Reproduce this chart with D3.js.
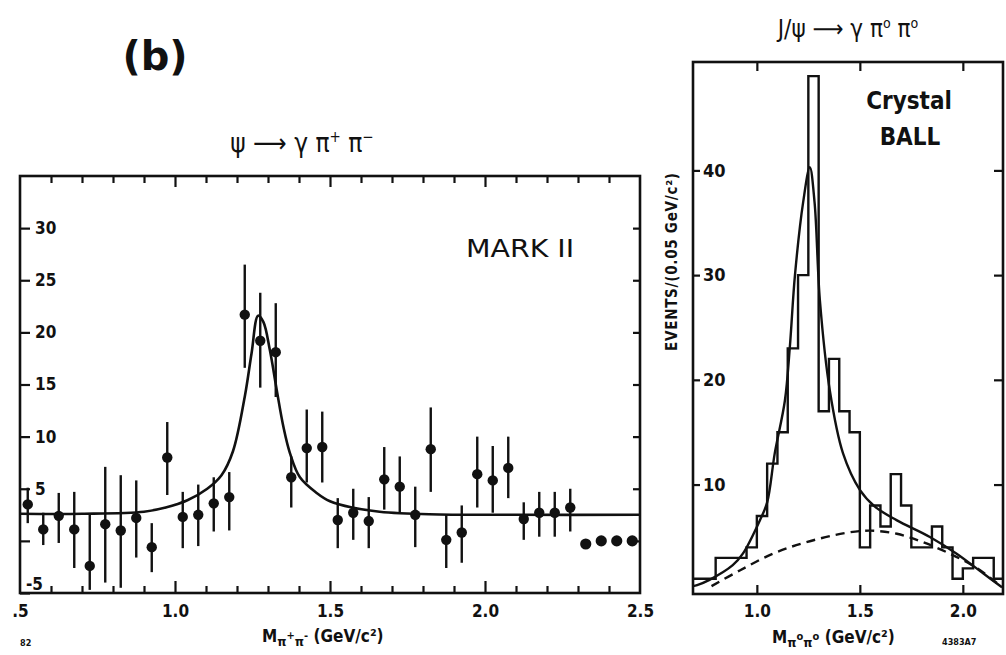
<!DOCTYPE html>
<html>
<head>
<meta charset="utf-8">
<script src="https://cdn.jsdelivr.net/npm/d3@7"></script>
<style>
  body { margin: 0; background: #fff; }
  svg text { font-family: "DejaVu Sans Condensed", "DejaVu Sans", sans-serif; font-weight: bold; fill: #111; }
</style>
</head>
<body>
<div id="chart"></div>
<script>
//*************************0. Data

// Mark II, psi -> gamma pi+ pi-  (bin centres, events, error bar ends)
const markMass    = [0.525, 0.575, 0.625, 0.675, 0.725, 0.775, 0.825, 0.875, 0.925, 0.975,
                     1.025, 1.075, 1.125, 1.175, 1.225, 1.275, 1.325, 1.375, 1.425, 1.475,
                     1.525, 1.575, 1.625, 1.675, 1.725, 1.775, 1.825, 1.875, 1.925, 1.975,
                     2.025, 2.075, 2.125, 2.175, 2.225, 2.275];
const markEvents  = [3.5, 1.1, 2.4, 1.1, -2.4, 1.6, 1.0, 2.2, -0.6, 8.0,
                     2.3, 2.5, 3.6, 4.2, 21.7, 19.2, 18.1, 6.1, 8.9, 9.0,
                     2.0, 2.7, 1.9, 5.9, 5.2, 2.5, 8.8, 0.1, 0.8, 6.4,
                     5.8, 7.0, 2.1, 2.7, 2.7, 3.2];
const markErrLow  = [1.7, -0.4, -0.2, -2.6, -4.7, -4.0, -4.5, -1.6, -3.0, 4.4,
                     -0.7, -0.5, 0.9, 1.0, 16.6, 14.7, 13.8, 3.2, 5.6, 5.6,
                     -0.7, 0.1, -0.7, 3.0, 2.7, -0.6, 4.7, -2.6, -2.1, 3.2,
                     2.7, 4.1, 0.1, 0.4, 0.4, 0.9];
const markErrHigh = [5.1, 2.7, 4.6, 4.7, 2.5, 7.1, 6.3, 5.8, 1.7, 11.4,
                     4.7, 5.4, 6.1, 6.6, 26.5, 23.8, 22.8, 8.1, 12.6, 12.4,
                     4.1, 5.0, 4.2, 9.0, 8.1, 5.2, 12.8, 2.5, 3.4, 10.0,
                     9.1, 10.0, 3.7, 4.7, 4.7, 5.0];
// last four bins drawn as plain dots
const markDotMass   = [2.325, 2.375, 2.425, 2.475];
const markDotEvents = [-0.3, 0.0, 0.0, 0.0];
// fitted curve
const markFitMass   = [0.5, 0.7, 0.9, 0.97, 1.04, 1.104, 1.15, 1.187, 1.226, 1.247, 1.268, 1.285,
                       1.306, 1.328, 1.35, 1.371, 1.403, 1.457, 1.5, 1.571, 1.66, 1.82, 2.1, 2.5];
const markFitEvents = [2.6, 2.6, 2.8, 3.2, 3.9, 5.0, 6.3, 8.6, 14.0, 18.0, 21.6, 21.0,
                       18.3, 14.5, 10.9, 8.4, 6.1, 4.6, 3.8, 3.2, 2.8, 2.55, 2.5, 2.5];
const markYTicks  = [30, 25, 20, 15, 10, 5, 0, -5];
const markXTicks  = [0.5, 1.0, 1.5, 2.0, 2.5];
const markXLabels = [".5", "1.0", "1.5", "2.0", "2.5"];

// Crystal Ball, J/psi -> gamma pi0 pi0 (histogram lower edges, events per 0.05 GeV)
const cbBinStart = [0.70, 0.75, 0.80, 0.85, 0.90, 0.95, 1.00, 1.05, 1.10, 1.15,
                    1.20, 1.25, 1.30, 1.35, 1.40, 1.45, 1.50, 1.55, 1.60, 1.65,
                    1.70, 1.75, 1.80, 1.85, 1.90, 1.95, 2.00, 2.05, 2.10, 2.15];
const cbEvents   = [1, 1, 3, 3, 3, 4, 7, 12, 15, 23,
                    30, 49, 17, 22, 17, 15, 4, 8, 6, 11,
                    8, 4, 4, 6, 4, 1, 2, 3, 3, 1];
const cbFitMass   = [0.69, 0.71, 0.77, 0.883, 0.932, 1.015, 1.05, 1.087, 1.136, 1.16, 1.185,
                     1.225, 1.257, 1.28, 1.306, 1.354, 1.418, 1.5, 1.573, 1.678, 1.84, 1.97, 2.1, 2.19];
const cbFitEvents = [0.3, 0.4, 0.9, 2.3, 3.4, 6.6, 8.3, 13, 18, 23.1, 30,
                     37, 40.3, 37, 27.6, 19, 13, 9.5, 7.9, 6.6, 5.0, 3.4, 1.5, 0.2];
const cbBgMass   = [0.78, 0.917, 1.078, 1.24, 1.437, 1.55, 1.68, 1.806, 1.937, 2.07, 2.19];
const cbBgEvents = [0.3, 1.8, 3.4, 4.5, 5.4, 5.6, 5.3, 4.5, 3.4, 2.0, 0.2];
const cbYTicks = [10, 20, 30, 40];
const cbXTicks = [1.0, 1.5, 2.0];

//*************************1. Set up Measurement

const dimensions = { width: 1006, height: 655 };
const markBox = { left: 20, right: 640, top: 176, bottom: 593 };
const cbBox   = { left: 693, right: 1003, top: 62, bottom: 594 };
const ink = "#111";

//*************************2. Draw Canvas

const wrapper = d3.select("#chart")
    .append("svg")
    .attr("width", dimensions.width)
    .attr("height", dimensions.height)
    .style("background", "#fff");

//*************************3. Scales

const markX = d3.scaleLinear().domain([0.5, 2.5]).range([markBox.left, markBox.right]);
const markY = d3.scaleLinear().domain([-5, 35]).range([markBox.bottom, markBox.top]);
const cbX = d3.scaleLinear().domain([0.69, 2.195]).range([cbBox.left, cbBox.right]);
const cbY = d3.scaleLinear().domain([-0.45, 50.35]).range([cbBox.bottom, cbBox.top]);

const styleAxis = g => {
    g.select(".domain").remove();
    g.selectAll(".tick line").attr("stroke", ink).attr("stroke-width", 2.2);
    g.selectAll("text").style("font-size", "17px");
};

//*************************4. Left panel (Mark II)

const mark = wrapper.append("g");

const markMinor = d3.range(0.6, 2.45, 0.1).filter(v => Math.abs(v * 2 - Math.round(v * 2)) > 0.01);
const markMajor = [1.0, 1.5, 2.0];

// bottom ticks + labels
mark.append("g").attr("transform", `translate(0,${markBox.bottom})`)
    .call(d3.axisBottom(markX).tickValues(markMinor).tickSize(-7).tickFormat(""))
    .call(styleAxis);
mark.append("g").attr("transform", `translate(0,${markBox.bottom})`)
    .call(d3.axisBottom(markX).tickValues(markMajor).tickSize(-12).tickFormat(""))
    .call(styleAxis);
mark.append("g").attr("transform", `translate(0,${markBox.bottom})`)
    .call(d3.axisBottom(markX).tickValues(markXTicks).tickSize(0).tickPadding(12)
        .tickFormat((d, i) => markXLabels[i]))
    .call(styleAxis);

// top ticks
mark.append("g").attr("transform", `translate(0,${markBox.top})`)
    .call(d3.axisTop(markX).tickValues(markMinor).tickSize(-7).tickFormat(""))
    .call(styleAxis);
mark.append("g").attr("transform", `translate(0,${markBox.top})`)
    .call(d3.axisTop(markX).tickValues(markMajor).tickSize(-11).tickFormat(""))
    .call(styleAxis);

// left ticks, labels sit inside the frame
const markLeft = mark.append("g").attr("transform", `translate(${markBox.left},0)`)
    .call(d3.axisLeft(markY).tickValues(markYTicks).tickSize(-10)
        .tickFormat(d => d === 0 ? "" : d))
    .call(styleAxis);
markLeft.selectAll("text")
    .attr("x", d => d === -5 ? 6 : 15)
    .attr("y", d => d === -5 ? -9 : 0)
    .attr("text-anchor", "start");

// right ticks
mark.append("g").attr("transform", `translate(${markBox.right},0)`)
    .call(d3.axisRight(markY).tickValues(markYTicks.filter(v => v >= 0)).tickSize(-7).tickFormat(""))
    .call(styleAxis);

mark.append("rect")
    .attr("x", markBox.left).attr("y", markBox.top)
    .attr("width", markBox.right - markBox.left).attr("height", markBox.bottom - markBox.top)
    .attr("fill", "none").attr("stroke", ink).attr("stroke-width", 2.6);

// fit line
const markLine = d3.line()
    .x(d => markX(d[0]))
    .y(d => markY(d[1]))
    .curve(d3.curveCatmullRom.alpha(0.5));

mark.append("path")
    .datum(markFitMass.map((m, i) => [m, markFitEvents[i]]))
    .attr("d", markLine)
    .attr("fill", "none").attr("stroke", ink).attr("stroke-width", 2.6);

// error bars and points
const markPoints = markMass.map((m, i) => ({
    m, v: markEvents[i], lo: markErrLow[i], hi: markErrHigh[i]
}));

mark.selectAll(".err")
    .data(markPoints)
    .join("line")
    .attr("class", "err")
    .attr("x1", d => markX(d.m)).attr("x2", d => markX(d.m))
    .attr("y1", d => markY(d.lo)).attr("y2", d => markY(d.hi))
    .attr("stroke", ink).attr("stroke-width", 2.4);

mark.selectAll(".pt")
    .data(markPoints)
    .join("circle")
    .attr("class", "pt")
    .attr("cx", d => markX(d.m)).attr("cy", d => markY(d.v))
    .attr("r", 5.2).attr("fill", ink);

mark.selectAll(".dot")
    .data(markDotMass.map((m, i) => ({ m, v: markDotEvents[i] })))
    .join("circle")
    .attr("class", "dot")
    .attr("cx", d => markX(d.m)).attr("cy", d => markY(d.v))
    .attr("r", 5.6).attr("fill", ink);

//*************************5. Right panel (Crystal Ball)

const cb = wrapper.append("g");

cb.append("defs").append("clipPath").attr("id", "cbClip")
    .append("rect")
    .attr("x", cbBox.left).attr("y", cbBox.top)
    .attr("width", cbBox.right - cbBox.left).attr("height", cbBox.bottom - cbBox.top);

cb.append("g").attr("transform", `translate(0,${cbBox.bottom})`)
    .call(d3.axisBottom(cbX).tickValues(cbXTicks).tickSize(-9).tickPadding(11)
        .tickFormat(d3.format(".1f")))
    .call(styleAxis);
cb.append("g").attr("transform", `translate(0,${cbBox.top})`)
    .call(d3.axisTop(cbX).tickValues(cbXTicks).tickSize(-9).tickFormat(""))
    .call(styleAxis);

const cbLeft = cb.append("g").attr("transform", `translate(${cbBox.left},0)`)
    .call(d3.axisLeft(cbY).tickValues(cbYTicks).tickSize(-7))
    .call(styleAxis);
cbLeft.selectAll("text").attr("x", 10).attr("text-anchor", "start").style("font-size", "18px");

cb.append("g").attr("transform", `translate(${cbBox.right},0)`)
    .call(d3.axisRight(cbY).tickValues(cbYTicks).tickSize(-9).tickFormat(""))
    .call(styleAxis);

cb.append("rect")
    .attr("x", cbBox.left).attr("y", cbBox.top)
    .attr("width", cbBox.right - cbBox.left).attr("height", cbBox.bottom - cbBox.top)
    .attr("fill", "none").attr("stroke", ink).attr("stroke-width", 2.6);

// histogram as a step outline
const histPoints = cbBinStart.map((s, i) => [i === 0 ? cbX.domain()[0] : s, cbEvents[i]]);
histPoints.push([cbBinStart[cbBinStart.length - 1] + 0.05, cbEvents[cbEvents.length - 1]]);

const plot = cb.append("g").attr("clip-path", "url(#cbClip)");

plot.append("path")
    .datum(histPoints)
    .attr("d", d3.line().x(d => cbX(d[0])).y(d => cbY(d[1])).curve(d3.curveStepAfter))
    .attr("fill", "none").attr("stroke", ink).attr("stroke-width", 2.4);

const cbLine = d3.line()
    .x(d => cbX(d[0]))
    .y(d => cbY(d[1]))
    .curve(d3.curveCatmullRom.alpha(0.5));

plot.append("path")
    .datum(cbBgMass.map((m, i) => [m, cbBgEvents[i]]))
    .attr("d", cbLine)
    .attr("fill", "none").attr("stroke", ink).attr("stroke-width", 2.4)
    .attr("stroke-dasharray", "9,6");

plot.append("path")
    .datum(cbFitMass.map((m, i) => [m, cbFitEvents[i]]))
    .attr("d", cbLine)
    .attr("fill", "none").attr("stroke", ink).attr("stroke-width", 2.4);

//*************************6. Texts

const addText = (x, y, size, txt) => wrapper.append("text")
    .attr("x", x).attr("y", y).style("font-size", size + "px").text(txt);

addText(155, 70, 40, "(b)").attr("text-anchor", "middle")
    .style("font-family", "DejaVu Sans").style("font-weight", 600);

// left title
const t1 = wrapper.append("text").attr("x", 302).attr("y", 152)
    .attr("text-anchor", "middle").style("font-size", "26px").style("font-weight", "normal");
t1.append("tspan").text("ψ ⟶ γ π");
t1.append("tspan").attr("dy", -10).style("font-size", "15px").text("+");
t1.append("tspan").attr("dy", 10).text(" π");
t1.append("tspan").attr("dy", -10).style("font-size", "15px").text("−");

// right title
const t2 = wrapper.append("text").attr("x", 848).attr("y", 37)
    .attr("text-anchor", "middle").style("font-size", "24px").style("font-weight", "normal");
t2.append("tspan").text("J/ψ ⟶ γ π");
t2.append("tspan").attr("dy", -9).style("font-size", "14px").text("o");
t2.append("tspan").attr("dy", 9).text(" π");
t2.append("tspan").attr("dy", -9).style("font-size", "14px").text("o");

addText(466, 257, 25, "MARK II").attr("textLength", 108).attr("lengthAdjust", "spacingAndGlyphs")
    .style("font-weight", "normal");
addText(909, 109, 24, "Crystal").attr("text-anchor", "middle");
addText(910, 145, 24, "BALL").attr("text-anchor", "middle");

// x axis titles
const xt1 = wrapper.append("text").attr("x", 262).attr("y", 642).style("font-size", "17px");
xt1.append("tspan").text("M");
xt1.append("tspan").attr("dy", 4).style("font-size", "13px").text("π");
xt1.append("tspan").attr("dy", -7).style("font-size", "11px").text("+");
xt1.append("tspan").attr("dy", 7).style("font-size", "13px").text("π");
xt1.append("tspan").attr("dy", -7).style("font-size", "11px").text("-");
xt1.append("tspan").attr("dy", 3).text(" (GeV/c²)");

const xt2 = wrapper.append("text").attr("x", 772).attr("y", 643).style("font-size", "17px");
xt2.append("tspan").text("M");
xt2.append("tspan").attr("dy", 4).style("font-size", "13px").text("π");
xt2.append("tspan").attr("dy", -7).style("font-size", "11px").text("o");
xt2.append("tspan").attr("dy", 7).style("font-size", "13px").text("π");
xt2.append("tspan").attr("dy", -7).style("font-size", "11px").text("o");
xt2.append("tspan").attr("dy", 3).text(" (GeV/c²)");

// y axis title of the right panel
wrapper.append("text")
    .attr("transform", "translate(677,262) rotate(-90)")
    .attr("text-anchor", "middle")
    .attr("textLength", 178)
    .style("font-size", "15px")
    .text("EVENTS/(0.05 GeV/c²)");

addText(20, 646, 9, "82");
addText(942, 645, 9, "4383A7");
</script>
</body>
</html>
